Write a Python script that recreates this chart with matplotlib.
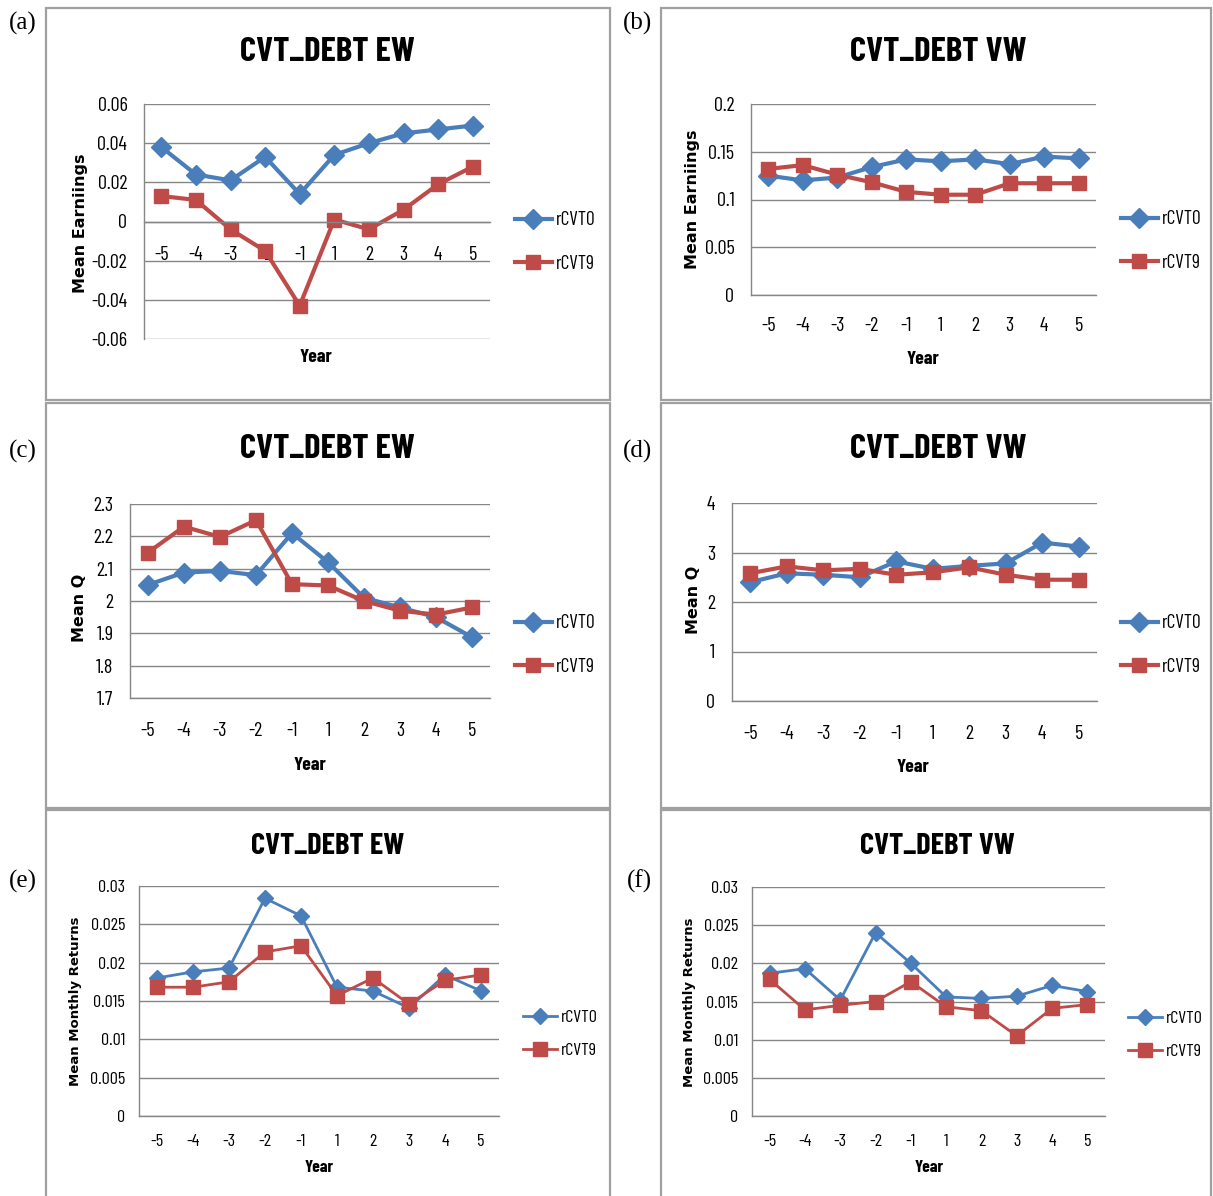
import matplotlib.pyplot as plt
from matplotlib.patches import Rectangle
from matplotlib.ticker import FixedLocator, FuncFormatter

# ---------- data ----------
years = ['-5', '-4', '-3', '-2', '-1', '1', '2', '3', '4', '5']

earn_ew_cvt0 = [0.038, 0.024, 0.021, 0.033, 0.014, 0.034, 0.040, 0.045, 0.047, 0.049]
earn_ew_cvt9 = [0.013, 0.011, -0.004, -0.015, -0.043, 0.001, -0.004, 0.006, 0.019, 0.028]

earn_vw_cvt0 = [0.125, 0.120, 0.123, 0.134, 0.142, 0.140, 0.142, 0.137, 0.145, 0.143]
earn_vw_cvt9 = [0.132, 0.136, 0.126, 0.118, 0.108, 0.105, 0.105, 0.117, 0.117, 0.117]

q_ew_cvt0 = [2.05, 2.088, 2.093, 2.08, 2.21, 2.12, 2.01, 1.98, 1.95, 1.888]
q_ew_cvt9 = [2.15, 2.23, 2.198, 2.25, 2.052, 2.048, 2.0, 1.97, 1.958, 1.98]

q_vw_cvt0 = [2.4, 2.58, 2.55, 2.5, 2.82, 2.67, 2.73, 2.78, 3.2, 3.12]
q_vw_cvt9 = [2.58, 2.72, 2.64, 2.67, 2.55, 2.6, 2.7, 2.55, 2.45, 2.45]

ret_ew_cvt0 = [0.0180, 0.0188, 0.0193, 0.0284, 0.0261, 0.0168, 0.0163, 0.0141, 0.0184, 0.0163]
ret_ew_cvt9 = [0.0168, 0.0168, 0.0175, 0.0214, 0.0222, 0.0157, 0.0180, 0.0146, 0.0177, 0.0184]

ret_vw_cvt0 = [0.0187, 0.0193, 0.0152, 0.0240, 0.0200, 0.0156, 0.0154, 0.0157, 0.0171, 0.0163]
ret_vw_cvt9 = [0.0179, 0.0139, 0.0145, 0.0150, 0.0176, 0.0143, 0.0138, 0.0105, 0.0141, 0.0146]

ticks_earn_ew = [-0.06, -0.04, -0.02, 0, 0.02, 0.04, 0.06]
ticks_earn_vw = [0, 0.05, 0.1, 0.15, 0.2]
ticks_q_ew = [1.7, 1.8, 1.9, 2.0, 2.1, 2.2, 2.3]
ticks_q_vw = [0, 1, 2, 3, 4]
ticks_ret = [0, 0.005, 0.01, 0.015, 0.02, 0.025, 0.03]

# ---------- layout (pixels) ----------
W, H = 1213, 1196
NARROW = ['Barlow Condensed', 'Liberation Sans', 'DejaVu Sans']
BLUE = '#4A7EBB'
RED = '#BE4B48'
GRID = '#868686'

plt.rcParams['axes.unicode_minus'] = False

panels = [
    dict(tag='(a)', tagxy=(23, 23), box=(46, 8, 610, 400), plot=(144, 104, 490, 339),
         title='CVT_DEBT EW', txy=(327, 52), ylab='Mean Earniings', yxy=(80, 223),
         xxy=(316, 358), leg=(515, 242), ticks=ticks_earn_ew, cross=0, xpad=18,
         s0=earn_ew_cvt0, s9=earn_ew_cvt9, small=False),
    dict(tag='(b)', tagxy=(637, 23), box=(661, 8, 1211, 400), plot=(751, 104, 1096, 295),
         title='CVT_DEBT VW', txy=(938, 52), ylab='Mean Earniings', yxy=(693, 199),
         xxy=(923, 359), leg=(1121, 241), ticks=ticks_earn_vw, cross=None, xpad=16,
         s0=earn_vw_cvt0, s9=earn_vw_cvt9, small=False),
    dict(tag='(c)', tagxy=(23, 451), box=(46, 403, 610, 808), plot=(130, 504, 490, 698),
         title='CVT_DEBT EW', txy=(327, 449), ylab='Mean Q', yxy=(79, 608),
         xxy=(310, 766), leg=(515, 645), ticks=ticks_q_ew, cross=None, xpad=17,
         s0=q_ew_cvt0, s9=q_ew_cvt9, small=False),
    dict(tag='(d)', tagxy=(637, 451), box=(661, 403, 1211, 808), plot=(732, 503, 1097, 701),
         title='CVT_DEBT VW', txy=(938, 449), ylab='Mean Q', yxy=(693, 600),
         xxy=(913, 767), leg=(1121, 645), ticks=ticks_q_vw, cross=None, xpad=17,
         s0=q_vw_cvt0, s9=q_vw_cvt9, small=False),
    dict(tag='(e)', tagxy=(23, 881), box=(46, 810, 610, 1200), plot=(139, 886, 499, 1116),
         title='CVT_DEBT EW', txy=(328, 846), ylab='Mean Monthly Returns', yxy=(76, 1001),
         xxy=(319, 1167), leg=(523, 1034), ticks=ticks_ret, cross=None, xpad=13,
         s0=ret_ew_cvt0, s9=ret_ew_cvt9, small=True),
    dict(tag='(f)', tagxy=(639, 881), box=(661, 810, 1211, 1200), plot=(752, 887, 1105, 1116),
         title='CVT_DEBT VW', txy=(937, 847), ylab='Mean Monthly Returns', yxy=(690, 1002),
         xxy=(929, 1168), leg=(1128, 1035), ticks=ticks_ret, cross=None, xpad=13,
         s0=ret_vw_cvt0, s9=ret_vw_cvt9, small=True),
]

fig = plt.figure(figsize=(W / 100, H / 100), dpi=100)


def fx(x):
    return x / W


def fy(y):
    return 1 - y / H


for p in panels:
    x0, y0, x1, y1 = p['box']
    fig.patches.append(Rectangle((fx(x0), fy(y1)), (x1 - x0) / W, (y1 - y0) / H,
                                 transform=fig.transFigure, fill=False,
                                 edgecolor='#A0A0A0', linewidth=1.6))
    fig.text(fx(p['tagxy'][0]), fy(p['tagxy'][1]), p['tag'], family='Liberation Serif',
             fontsize=18, ha='center', va='center')

    small = p['small']
    fs_tick = 13 if small else 14.5
    fs_leg = 13 if small else 14
    fs_title = 22 if small else 25
    fs_ylab = 9.5 if small else 11.5
    fs_year = 12.5 if small else 14
    lw = 2.0 if small else 3.0
    ms_d = 8.5 if small else 10
    ms_s = 9.5 if small else 10.5

    px0, py0, px1, py1 = p['plot']
    ax = fig.add_axes([fx(px0), fy(py1), (px1 - px0) / W, (py1 - py0) / H])
    xs = range(len(years))
    l0, = ax.plot(xs, p['s0'], color=BLUE, lw=lw, marker='D', ms=ms_d, label='rCVT0')
    l9, = ax.plot(xs, p['s9'], color=RED, lw=lw, marker='s', ms=ms_s, label='rCVT9')

    ax.set_xlim(-0.5, len(years) - 0.5)
    ax.set_ylim(p['ticks'][0], p['ticks'][-1])
    ax.set_xticks(list(xs))
    ax.set_xticklabels(years)
    ax.yaxis.set_major_locator(FixedLocator(p['ticks']))
    ax.yaxis.set_major_formatter(FuncFormatter(lambda v, pos: '%g' % round(v, 4)))
    ax.grid(axis='y', color=GRID, lw=1)
    ax.set_axisbelow(True)
    for s in ['top', 'right']:
        ax.spines[s].set_visible(False)
    for s in ['left', 'bottom']:
        ax.spines[s].set_color(GRID)
        ax.spines[s].set_linewidth(1)
    if p['cross'] is not None:
        ax.spines['bottom'].set_position(('data', p['cross']))
    ax.tick_params(length=0)
    ax.tick_params(axis='x', pad=p['xpad'])
    ax.tick_params(axis='y', pad=12 if not small else 10)
    for t in ax.get_xticklabels() + ax.get_yticklabels():
        t.set_family(NARROW)
        t.set_fontsize(fs_tick)

    fig.text(fx(p['txy'][0]), fy(p['txy'][1]), p['title'], family=NARROW,
             fontweight='bold', fontsize=fs_title, ha='center', va='center')
    fig.text(fx(p['xxy'][0]), fy(p['xxy'][1]), 'Year', family=NARROW,
             fontweight='bold', fontsize=fs_year, ha='center', va='center')
    fig.text(fx(p['yxy'][0]), fy(p['yxy'][1]), p['ylab'], family='DejaVu Sans',
             fontweight='bold', fontsize=fs_ylab, ha='center', va='center', rotation=90)

    ax.legend(handles=[l0, l9], loc='center left',
              bbox_to_anchor=(fx(p['leg'][0]), fy(p['leg'][1])),
              bbox_transform=fig.transFigure, frameon=False, borderpad=0,
              borderaxespad=0, handlelength=1.9, handletextpad=0.2,
              labelspacing=1.3 if not small else 0.95,
              prop={'family': NARROW, 'size': fs_leg})

fig.savefig('out.png', dpi=100)
